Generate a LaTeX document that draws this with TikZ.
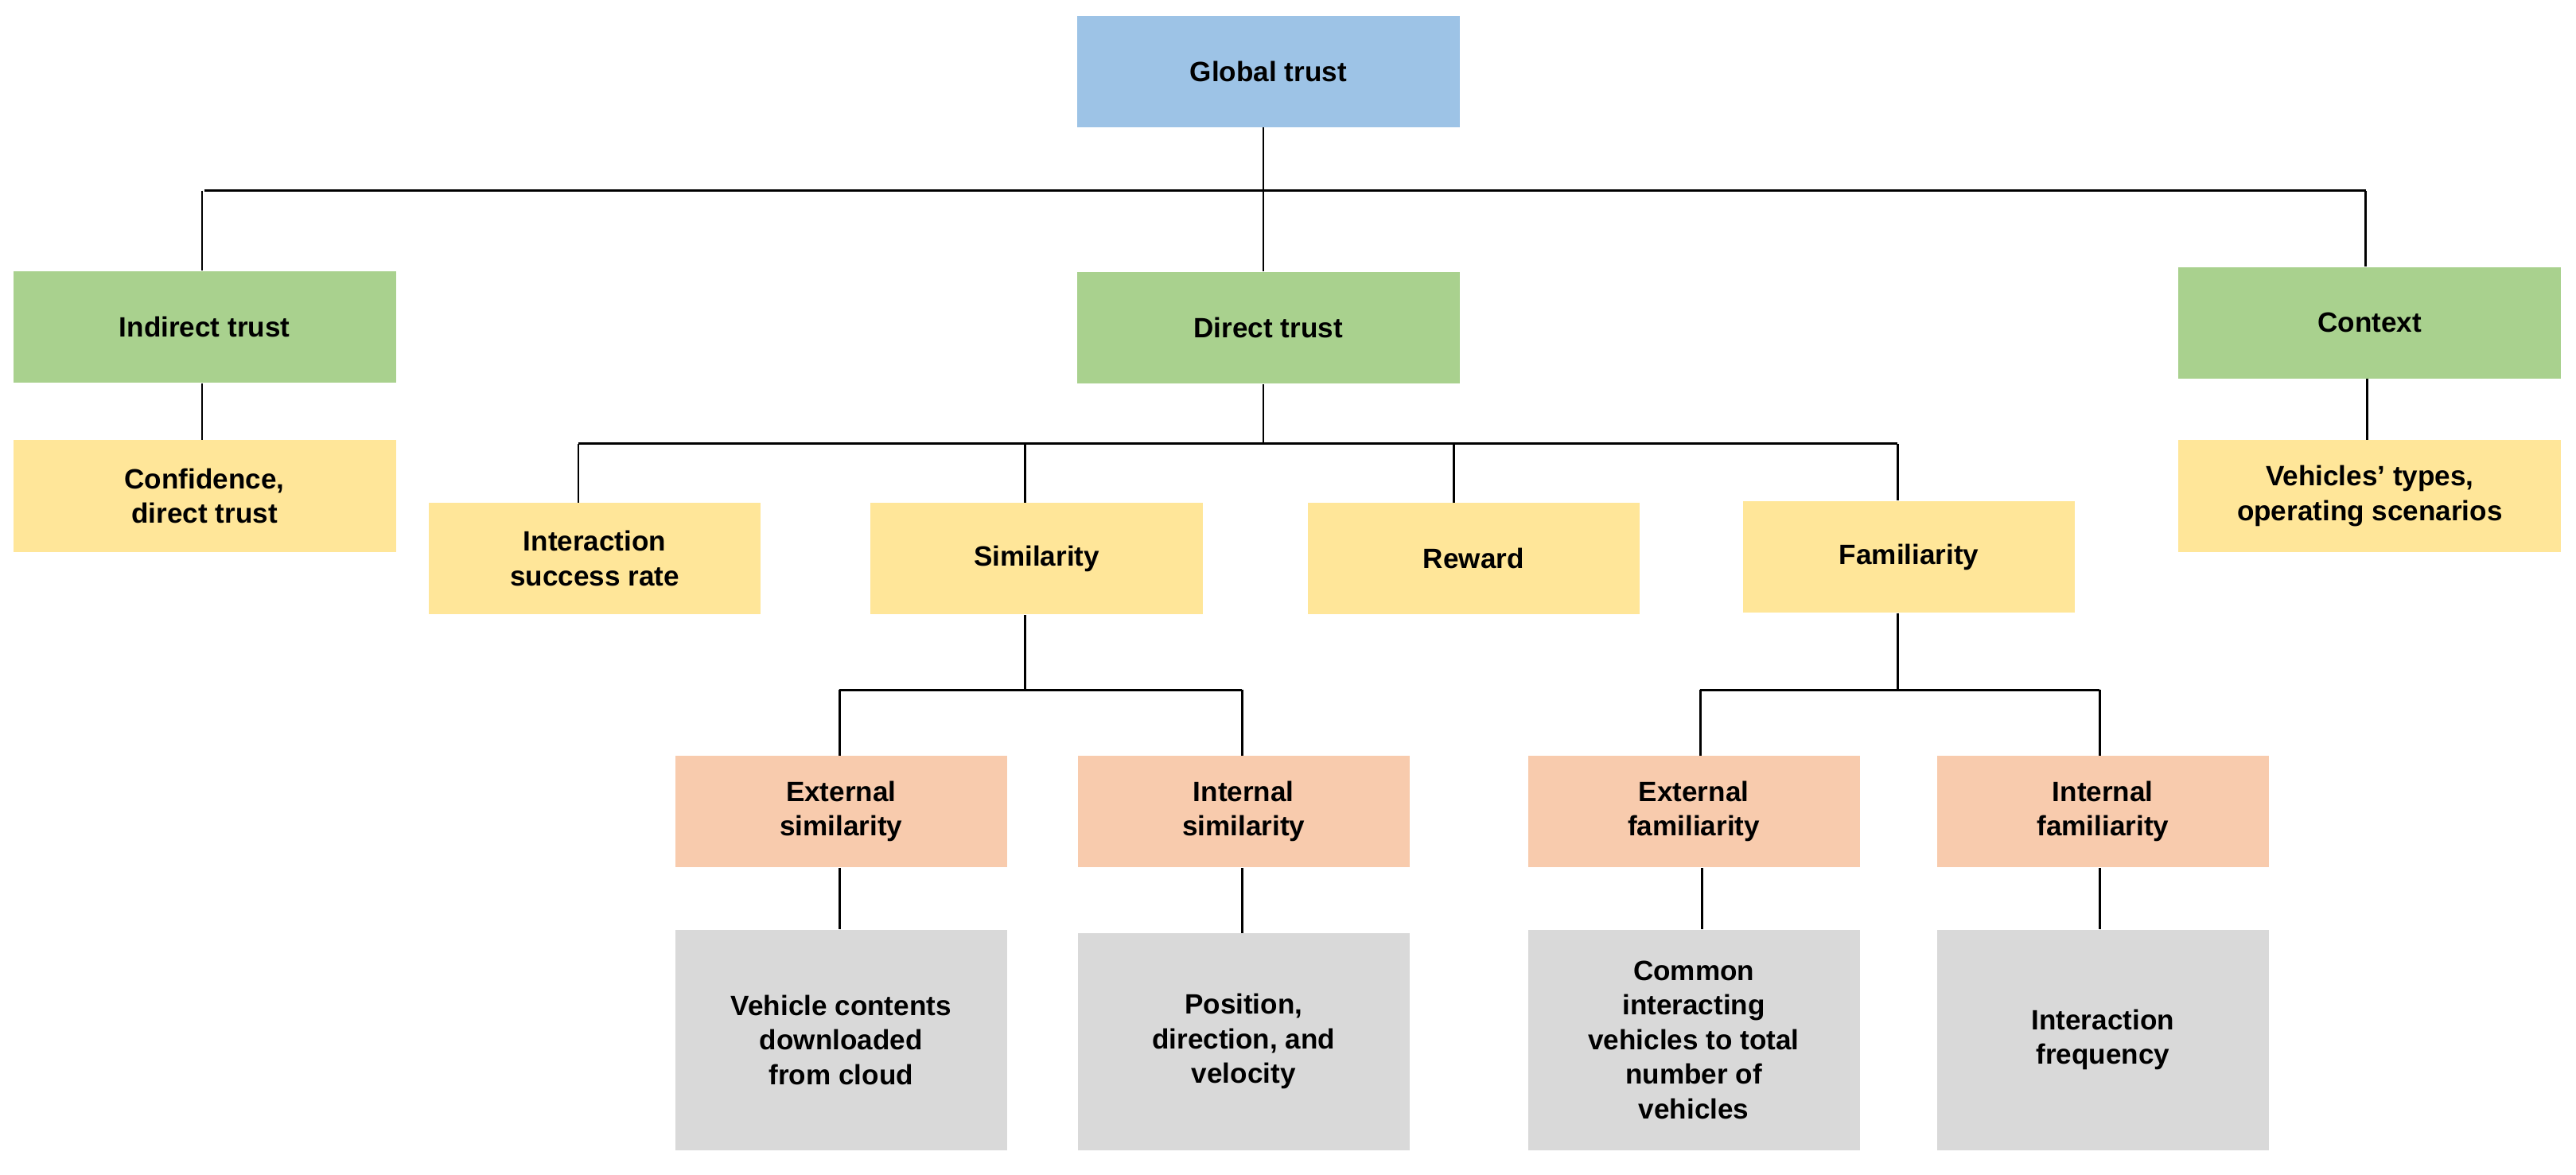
\documentclass[tikz,border=0pt]{standalone}
\usepackage{fontspec}
\setmainfont{Liberation Sans}
\definecolor{cblue}{HTML}{9DC3E6}
\definecolor{cgreen}{HTML}{A9D18E}
\definecolor{cyel}{HTML}{FFE699}
\definecolor{cora}{HTML}{F8CBAD}
\definecolor{cgray}{HTML}{D9D9D9}
\begin{document}
\begin{tikzpicture}[x=1pt,y=-1pt,
 box/.style={draw=none,minimum width=233pt,minimum height=68pt,align=center,inner sep=2pt,font=\fontsize{17}{21}\selectfont\bfseries},
 sbox/.style={box,minimum width=202pt},
 ln/.style={draw=black,line width=1.3pt}]
\useasboundingbox (0,0) rectangle (1568,715);
\node[box,fill=cblue] (g) at (772,43.5) {Global trust};
\node[box,fill=cgreen] (it) at (124.5,199) {Indirect trust};
\node[box,fill=cgreen] (dt) at (772,199.5) {Direct trust};
\node[box,fill=cgreen] (cx) at (1442.5,196.5) {Context};
\node[box,fill=cyel] (cf) at (124.5,302) {Confidence,\\direct trust};
\node[box,fill=cyel] (vt) at (1442.5,302) {Vehicles' types,\\operating scenarios};
\node[sbox,fill=cyel] (isr) at (362,340) {Interaction\\success rate};
\node[sbox,fill=cyel] (sim) at (631,340) {Similarity};
\node[sbox,fill=cyel] (rew) at (897,340) {Reward};
\node[sbox,fill=cyel] (fam) at (1162,339) {Familiarity};
\node[sbox,fill=cora] (es) at (512,494) {External\\similarity};
\node[sbox,fill=cora] (is) at (757,494) {Internal\\similarity};
\node[sbox,fill=cora] (ef) at (1031,494) {External\\familiarity};
\node[sbox,fill=cora] (if) at (1280,494) {Internal\\familiarity};
\node[sbox,fill=cgray,minimum height=134pt] (g1) at (512,633) {Vehicle contents\\downloaded\\from cloud};
\node[sbox,fill=cgray,minimum height=132pt] (g2) at (757,634) {Position,\\direction, and\\velocity};
\node[sbox,fill=cgray,minimum height=134pt] (g3) at (1031,633) {Common\\interacting\\vehicles to total\\number of\\vehicles};
\node[sbox,fill=cgray,minimum height=134pt] (g4) at (1280,633) {Interaction\\frequency};
% bus coordinates
\coordinate (b1) at (769,116);
\coordinate (b2) at (769,270);
\coordinate (b3) at (624,420);
\coordinate (b4) at (1155,420);
\draw[ln] (g.south -| b1) -- (b1);
\draw[ln] (123,116 -| it.north) -- (1440,116);
\draw[ln] (123,116) -- (it.north -| 123,0);
\draw[ln] (1440,116) -- (cx.north -| 1440,0);
\draw[ln] (b1) -- (dt.north -| b1);
\draw[ln] (dt.south -| b2) -- (b2);
\draw[ln] (352,270) -- (1155,270);
\draw[ln] (352,270) -- (isr.north -| 352,0);
\draw[ln] (624,270) -- (sim.north -| 624,0);
\draw[ln] (885,270) -- (rew.north -| 885,0);
\draw[ln] (1155,270) -- (fam.north -| 1155,0);
\draw[ln] (sim.south -| b3) -- (b3);
\draw[ln] (511,420) -- (756,420);
\draw[ln] (511,420) -- (es.north -| 511,0);
\draw[ln] (756,420) -- (is.north -| 756,0);
\draw[ln] (fam.south -| b4) -- (b4);
\draw[ln] (1035,420) -- (1278,420);
\draw[ln] (1035,420) -- (ef.north -| 1035,0);
\draw[ln] (1278,420) -- (if.north -| 1278,0);
\draw[ln] (it.south -| 123,0) -- (cf.north -| 123,0);
\draw[ln] (cx.south -| 1441,0) -- (vt.north -| 1441,0);
\draw[ln] (es.south -| 511,0) -- (g1.north -| 511,0);
\draw[ln] (is.south -| 756,0) -- (g2.north -| 756,0);
\draw[ln] (ef.south -| 1036,0) -- (g3.north -| 1036,0);
\draw[ln] (if.south -| 1278,0) -- (g4.north -| 1278,0);
\end{tikzpicture}
\end{document}
